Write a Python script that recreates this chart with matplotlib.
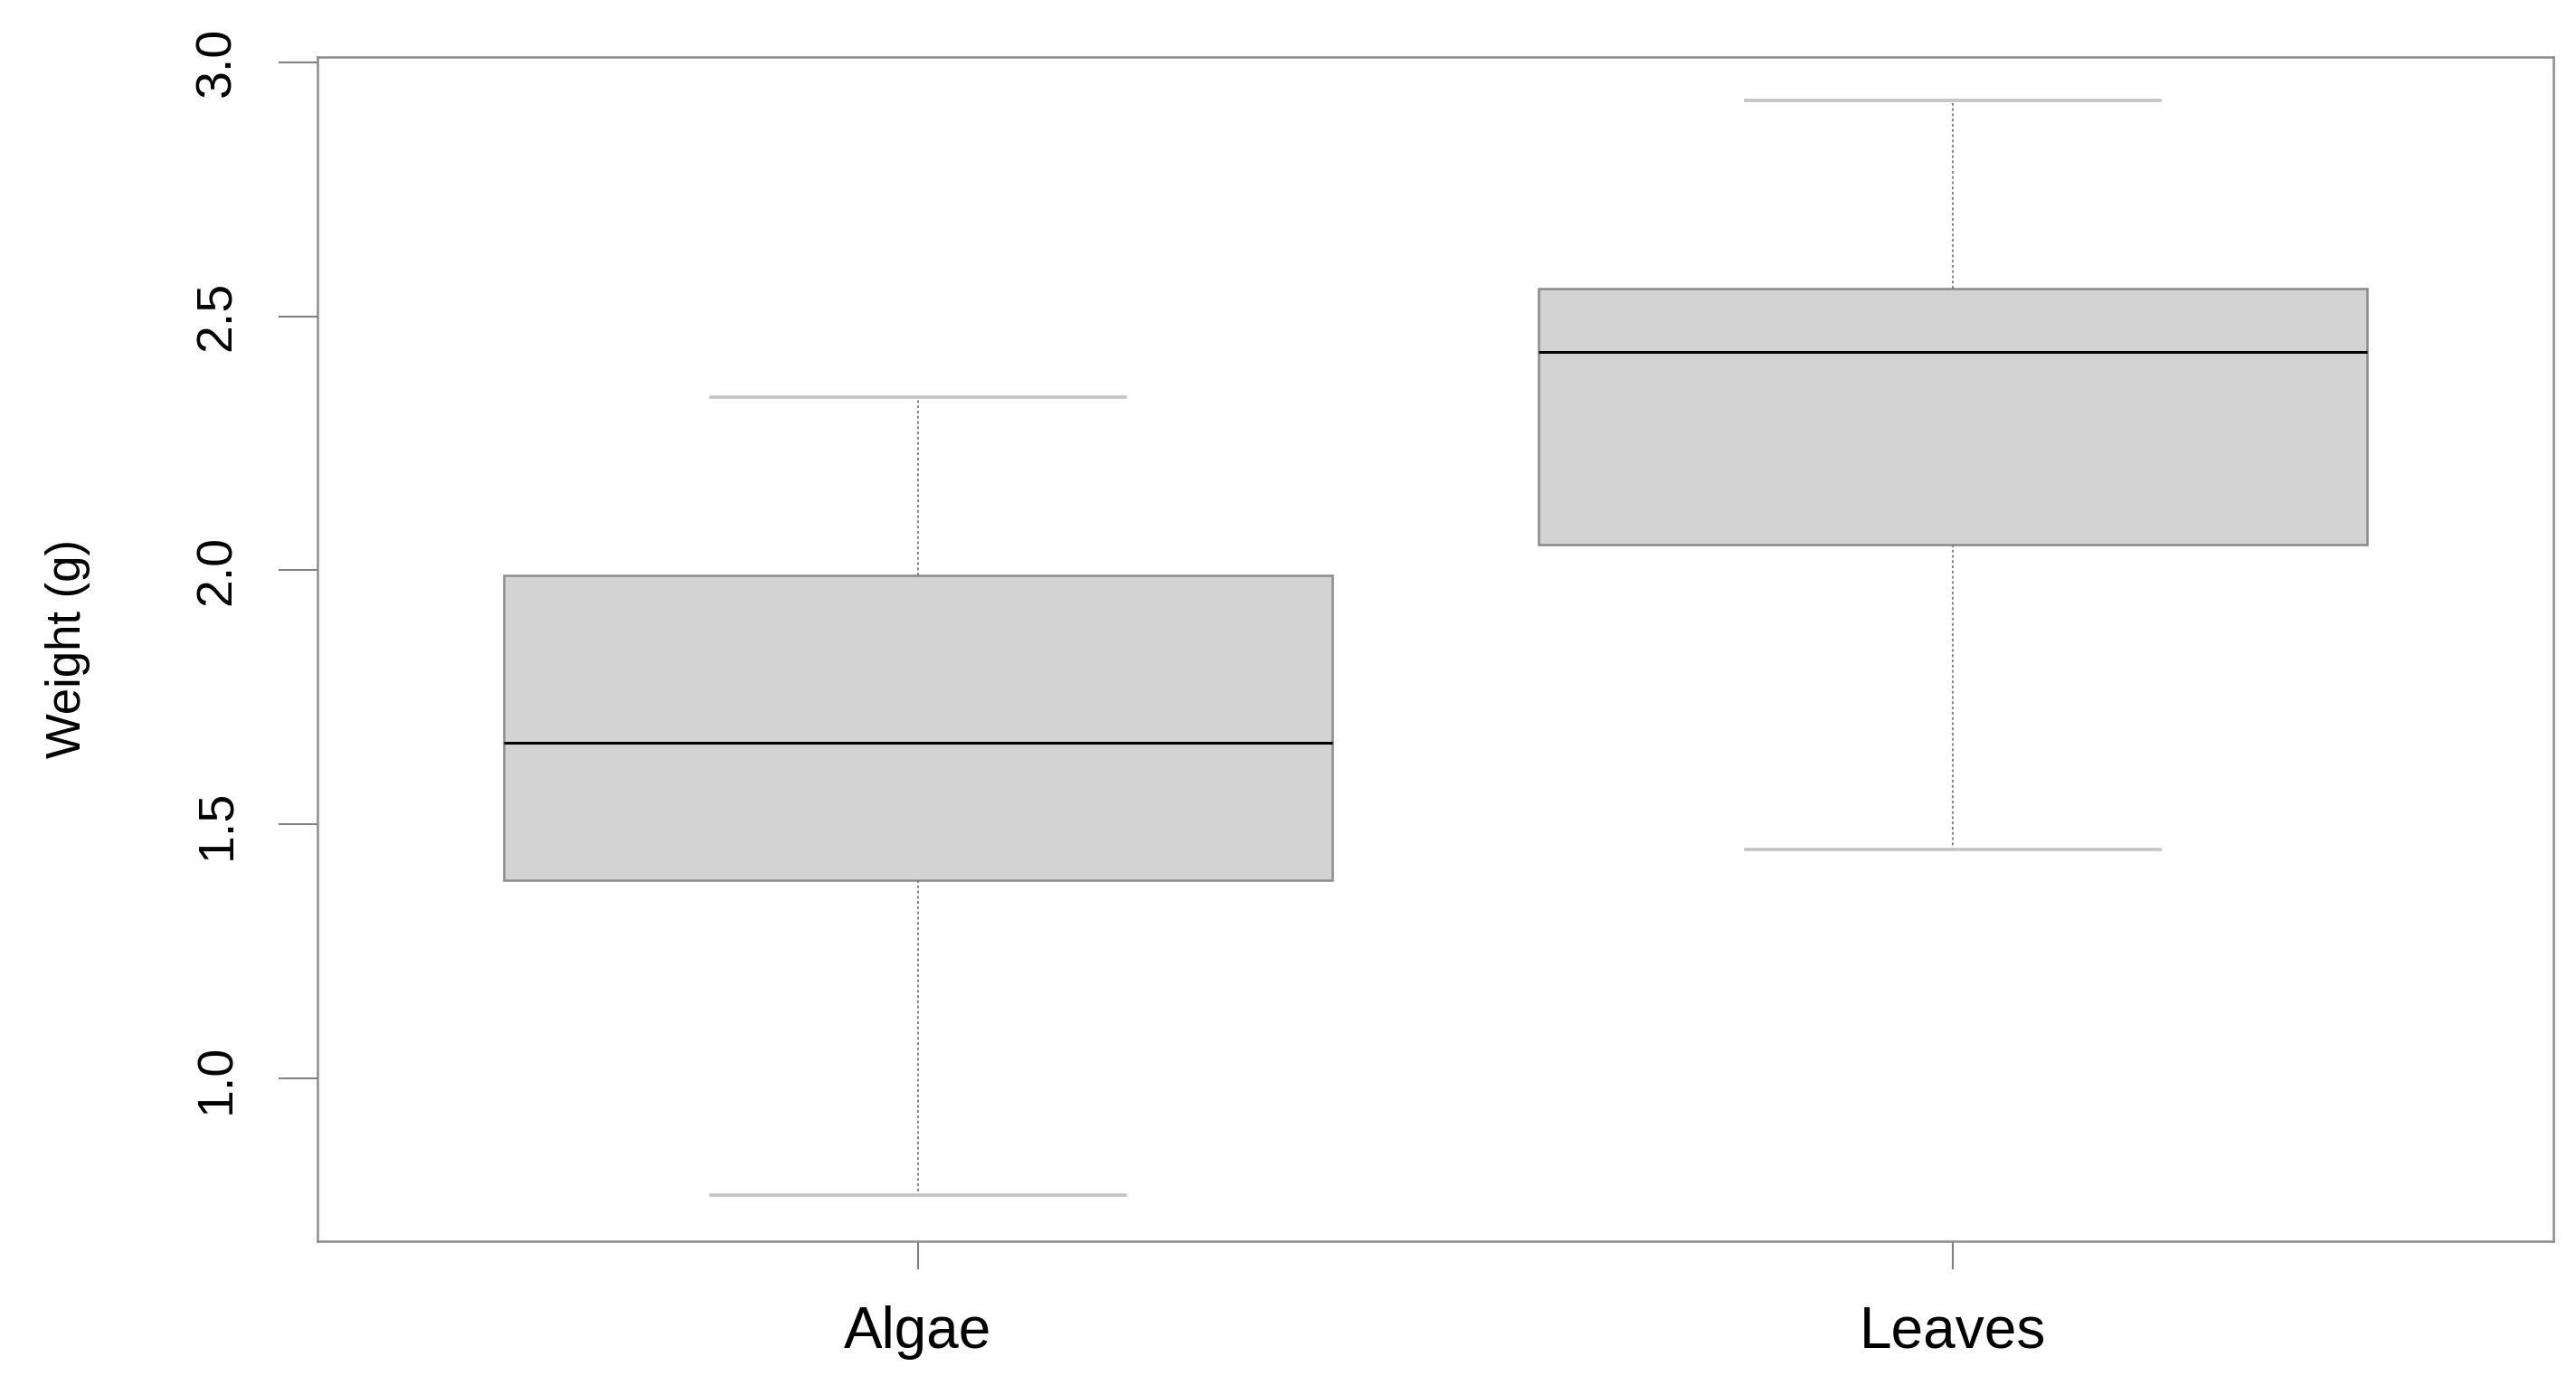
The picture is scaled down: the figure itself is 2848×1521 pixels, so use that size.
import matplotlib
matplotlib.use("Agg")
import matplotlib.pyplot as plt

# Box statistics (weight in grams)
groups = ["Algae", "Leaves"]
whisker_low = [0.77, 1.45]
quart_1 = [1.39, 2.05]
medians = [1.66, 2.43]
quart_3 = [1.99, 2.555]
whisker_high = [2.34, 2.925]
y_ticks = [1.0, 1.5, 2.0, 2.5, 3.0]

plt.rcParams["font.family"] = ["Liberation Sans", "DejaVu Sans"]

FIG_W, FIG_H, DPI = 2848, 1521, 100
fig = plt.figure(figsize=(FIG_W / DPI, FIG_H / DPI), dpi=DPI)
fig.patch.set_facecolor("white")

# plot frame in pixels: left 351, right 2823, top 63, bottom 1372
left, right, top, bottom = 351, 2823, 63, 1372
ax = fig.add_axes([left / FIG_W, 1 - bottom / FIG_H,
                   (right - left) / FIG_W, (bottom - top) / FIG_H])

stats = []
for name, lo, q1, med, q3, hi in zip(groups, whisker_low, quart_1, medians, quart_3, whisker_high):
    stats.append({"label": name, "whislo": lo, "q1": q1, "med": med,
                  "q3": q3, "whishi": hi, "fliers": []})

positions = list(range(1, len(groups) + 1))
ax.bxp(
    stats,
    positions=positions,
    widths=0.8,
    capwidths=0.4,
    patch_artist=True,
    showfliers=False,
    boxprops=dict(facecolor="#d3d3d3", edgecolor="#8a8a8a", linewidth=1.8),
    medianprops=dict(color="black", linewidth=2.2),
    whiskerprops=dict(color="#7a7a7a", linewidth=1.3, linestyle=(0, (1.6, 1.6))),
    capprops=dict(color="#c4c4c4", linewidth=2.6),
)

n = len(groups)
ax.set_xlim(0.5 - 0.04 * n, n + 0.5 + 0.04 * n)
ax.set_ylim(0.68, 3.01)

ax.set_xticks(positions)
ax.set_xticklabels(groups)
ax.set_yticks(y_ticks)
ax.set_yticklabels([f"{v:.1f}" for v in y_ticks], rotation=90, va="center")

for side in ["left", "right", "top", "bottom"]:
    ax.spines[side].set_color("#8c8c8c")
    ax.spines[side].set_linewidth(1.8)

ax.tick_params(axis="x", length=22, width=1.5, color="#808080", pad=29,
               labelsize=46, labelcolor="black")
ax.tick_params(axis="y", length=31, width=1.5, color="#808080", pad=30,
               labelsize=40, labelcolor="black")

ax.set_ylabel("Weight (g)", fontsize=38, color="black")
ax.yaxis.set_label_coords(-0.1015, 0.5)

fig.savefig("out.png", dpi=DPI, facecolor="white")
